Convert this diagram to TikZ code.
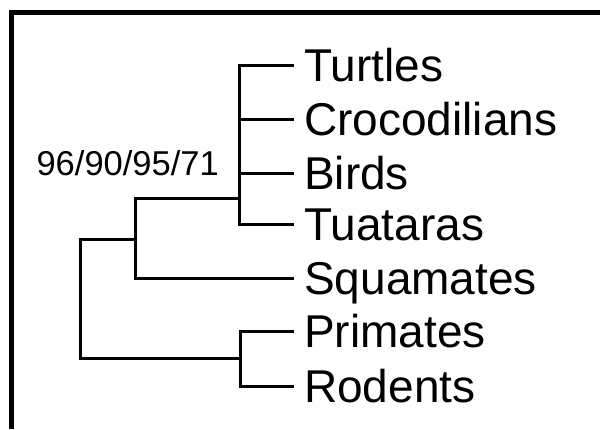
\documentclass[tikz,border=0pt]{standalone}
\usepackage{fontspec}
\setmainfont{Liberation Sans}
\usetikzlibrary{positioning}
\tikzstyle{branch} = [line width=3pt, line cap=rect, color=black]
\tikzstyle{frame} = [line width=5pt, miter limit=10, color=black]
\tikzstyle{taxon} = [anchor=base west, inner sep=0pt, xshift=12pt, yshift=-16.5pt, font=\fontsize{46}{54}\selectfont]

\begin{document}
\begin{tikzpicture}[x=1pt, y=-1pt]
    \useasboundingbox (0,0) rectangle (600,429);

    % Frame
    \draw[frame] (11.5,429) -- (11.5,12.5) -- (600,12.5);

    % Tips
    \coordinate (turtles) at (292,65);
    \coordinate (crocs) at (292,119);
    \coordinate (birds) at (292,173);
    \coordinate (tuataras) at (292,224);
    \coordinate (squamates) at (292,278);
    \coordinate (primates) at (292,331);
    \coordinate (rodents) at (292,386);

    % Inner nodes
    \coordinate (archo) at (239,198);
    \coordinate (reptiles) at (135,239);
    \coordinate (mammals) at (240,358);
    \coordinate (root) at (80,298);

    % Branches
    \draw[branch] (archo) |- (turtles);
    \draw[branch] (archo) |- (tuataras);
    \draw[branch] (archo |- crocs) -- (crocs);
    \draw[branch] (archo |- birds) -- (birds);
    \draw[branch] (reptiles) |- (archo);
    \draw[branch] (reptiles) |- (squamates);
    \draw[branch] (mammals) |- (primates);
    \draw[branch] (mammals) |- (rodents);
    \draw[branch] (root) |- (reptiles);
    \draw[branch] (root) |- (mammals);

    % Tip labels
    \node[taxon] (turtles-lbl) at (turtles) {Turtles};
    \node[taxon] (crocs-lbl) at (crocs) {Crocodilians};
    \node[taxon] (birds-lbl) at (birds) {Birds};
    \node[taxon] (tuataras-lbl) at (tuataras) {Tuataras};
    \node[taxon] (squamates-lbl) at (squamates) {Squamates};
    \node[taxon] (primates-lbl) at (primates) {Primates};
    \node[taxon] (rodents-lbl) at (rodents) {Rodents};

    % Support values
    \node[anchor=base east, inner sep=0pt, font=\fontsize{34.5}{40}\selectfont] (support) at (219,175) {96/90/95/71};
\end{tikzpicture}
\end{document}
